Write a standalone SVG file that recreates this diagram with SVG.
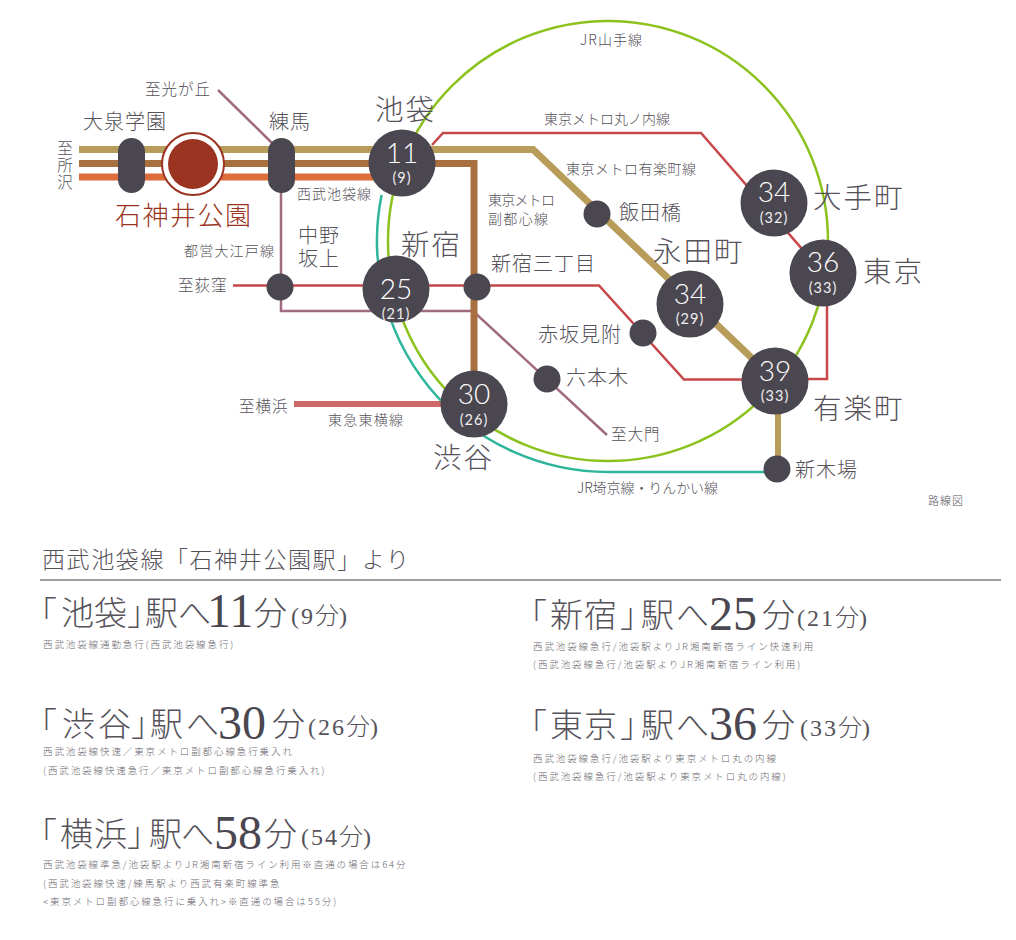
<svg xmlns="http://www.w3.org/2000/svg" width="1016" height="940" viewBox="0 0 1016 940">
<style>
text{font-family:"Noto Sans CJK JP","Noto Sans",sans-serif;font-weight:300;fill:#55525a}
.l{fill:none;stroke-linejoin:miter}
.big{fill:#4b4751}
.sm{fill:#4b4751}
.n{font-family:Lato,"Noto Sans",sans-serif;font-weight:300;fill:#fff;font-size:28px;text-anchor:middle}
.m{font-family:Lato,"Noto Sans",sans-serif;font-weight:400;fill:#eeeeee;font-size:14.5px;text-anchor:middle;letter-spacing:1px}
.s29{font-size:28.5px;letter-spacing:2px}
.s20{font-size:20px;letter-spacing:1px}
.s16{font-size:15.5px;letter-spacing:1px}
.s14{font-size:14px}
.h1{font-size:33px}
.hd{font-family:"Liberation Serif",serif;font-size:48px;font-weight:400;fill:#4b4751}
.hp{font-size:24px}
.hs{font-family:"Liberation Serif",serif;font-size:24px;font-weight:400;letter-spacing:2px}
.f{font-size:9.5px;letter-spacing:1.9px;fill:#6a676e}
</style>
<g id="connectors">
<circle class="l" cx="608" cy="241" r="220" stroke="#8cc21e" stroke-width="2.5"/>
<path class="l" d="M381.6 195A231 231 0 0 0 608 472H776" stroke="#2fb59a" stroke-width="2.5"/>
<path class="l" d="M218 90L272 143M281 165V311H473L607 435" stroke="#a06a80" stroke-width="2.500"/>
<path class="l" d="M79 149.500H533L776 381" stroke="#b89d5a" stroke-width="7"/>
<path class="l" d="M79 163.500H474V404" stroke="#a8703f" stroke-width="7"/>
<path class="l" d="M79 177H385" stroke="#dd6e3c" stroke-width="7"/>
<path class="l" d="M778 381V469" stroke="#b89d5a" stroke-width="6"/>
<path class="l" d="M294 404H445" stroke="#cc6866" stroke-width="6"/>
<path class="l" d="M432 145L443 133H701L823 273" stroke="#c6474a" stroke-width="2.500"/>
<path class="l" d="M827 280V379H775" stroke="#c6474a" stroke-width="2.500"/>
<path class="l" d="M233 285.500H599L684 379.500H775" stroke="#c6474a" stroke-width="2.500"/>
</g>
<g id="node-oizumi"><rect x="118" y="138" width="27" height="55" rx="13.500" class="big"/><text x="83" y="129" class="s20">大泉学園</text></g>
<g id="node-shakujii"><circle cx="193" cy="164" r="31" fill="#fff" stroke="#9a3320" stroke-width="2"/><circle cx="193" cy="164" r="25" fill="#9a3320"/><text x="115" y="225" style="font-size:26px;letter-spacing:1.500px;fill:#9a3320">石神井公園</text></g>
<g id="node-nerima"><rect x="268" y="138" width="27" height="55" rx="13.500" class="big"/><text x="269" y="129" class="s20">練馬</text></g>
<g id="node-ikebukuro"><circle cx="402" cy="163" r="33.500" class="big"/><text x="402" y="163" class="n">11</text><text x="402" y="183" class="m">(9)</text><text x="375" y="120" class="s29">池袋</text></g>
<g id="node-shinjuku"><circle cx="396" cy="289" r="33.500" class="big"/><text x="396" y="299" class="n">25</text><text x="396" y="319" class="m">(21)</text><text x="401" y="255" class="s29">新宿</text></g>
<g id="node-shibuya"><circle cx="474" cy="404" r="33.500" class="big"/><text x="474" y="404" class="n">30</text><text x="474" y="425" class="m">(26)</text><text x="433" y="468" class="s29">渋谷</text></g>
<g id="node-nagatacho"><circle cx="690" cy="304" r="33.500" class="big"/><text x="690" y="304" class="n">34</text><text x="690" y="324" class="m">(29)</text><text x="653" y="262" class="s29">永田町</text></g>
<g id="node-otemachi"><circle cx="774" cy="203" r="33.500" class="big"/><text x="774" y="202" class="n">34</text><text x="774" y="223" class="m">(32)</text><text x="813" y="208" class="s29">大手町</text></g>
<g id="node-tokyo"><circle cx="823" cy="273" r="33.500" class="big"/><text x="823" y="272" class="n">36</text><text x="823" y="293" class="m">(33)</text><text x="863" y="282" class="s29">東京</text></g>
<g id="node-yurakucho"><circle cx="775" cy="381" r="33.500" class="big"/><text x="775" y="381" class="n">39</text><text x="775" y="401" class="m">(33)</text><text x="813" y="419" class="s29">有楽町</text></g>
<g id="node-iidabashi"><circle cx="597" cy="214" r="13.500" class="sm"/><text x="619" y="220" class="s20">飯田橋</text></g>
<g id="node-akasaka"><circle cx="643" cy="333" r="13.500" class="sm"/><text x="538" y="342" class="s20">赤坂見附</text></g>
<g id="node-roppongi"><circle cx="547" cy="379" r="13.500" class="sm"/><text x="566" y="385" class="s20">六本木</text></g>
<g id="node-sanchome"><circle cx="477" cy="287" r="13.500" class="sm"/><text x="491" y="271" class="s20">新宿三丁目</text></g>
<g id="node-nakano"><circle cx="280" cy="287" r="13.500" class="sm"/><text x="298" y="243" class="s20">中野<tspan x="298" dy="23">坂上</tspan></text></g>
<g id="node-shinkiba"><circle cx="777" cy="469" r="13.500" class="sm"/><text x="795" y="477" class="s20">新木場</text></g>
<g id="labels">
<text class="s16" x="145" y="95">至光が丘</text>
<text x="65" y="140" style="font-size:15.500px;letter-spacing:1.500px;writing-mode:vertical-rl">至所沢</text>
<text class="s14" x="297" y="199" textLength="74">西武池袋線</text>
<text class="s14" x="184" y="256" textLength="90">都営大江戸線</text>
<text class="s16" x="178" y="291">至荻窪</text>
<text class="s14" x="488" y="205" textLength="67">東京メトロ</text><text class="s14" x="488" y="224" textLength="60">副都心線</text>
<text class="s14" x="544" y="124" textLength="126">東京メトロ丸ノ内線</text>
<text class="s14" x="566" y="174" textLength="130">東京メトロ有楽町線</text>
<text class="s14" x="580" y="45" textLength="62">JR山手線</text>
<text class="s16" x="611" y="440">至大門</text>
<text class="s16" x="239" y="412">至横浜</text>
<text class="s14" x="328" y="425" textLength="75">東急東横線</text>
<text class="s14" x="577" y="493" textLength="141">JR埼京線・りんかい線</text>
<text x="928" y="505" style="font-size:11px;letter-spacing:1px">路線図</text>
</g>
<g id="times">
<text x="42" y="568" style="font-size:23px;letter-spacing:1.600px">西武池袋線「石神井公園駅」より</text>
<path d="M40 580H1001" stroke="#3f3c44" stroke-width="1"/>
<text class="h1" y="625" x="24 61 94 127 145 178">「池袋」駅へ</text><text class="hd" x="207" y="627">11</text><text class="h1" x="254" y="625">分</text><text x="291" y="624"><tspan class="hs">(9</tspan><tspan class="hp">分</tspan><tspan class="hs">)</tspan></text>
<text x="43" y="648" class="f">西武池袋線通勤急行(西武池袋線急行)</text>
<text class="h1" y="736" x="24 62 98 131 150 186">「渋谷」駅へ</text><text class="hd" x="218" y="739">30</text><text class="h1" x="272" y="736">分</text><text x="308" y="735"><tspan class="hs">(26</tspan><tspan class="hp">分</tspan><tspan class="hs">)</tspan></text>
<text x="43" y="755" class="f">西武池袋線快速／東京メトロ副都心線急行乗入れ</text>
<text x="43" y="774" class="f">(西武池袋線快速急行／東京メトロ副都心線急行乗入れ)</text>
<text class="h1" y="627" x="514 550 584 620 641 676">「新宿」駅へ</text><text class="hd" x="709" y="630">25</text><text class="h1" x="762" y="627">分</text><text x="797" y="626"><tspan class="hs">(21</tspan><tspan class="hp">分</tspan><tspan class="hs">)</tspan></text>
<text x="533" y="650" class="f">西武池袋線急行/池袋駅よりJR湘南新宿ライン快速利用</text>
<text x="533" y="668" class="f">(西武池袋線急行/池袋駅よりJR湘南新宿ライン利用)</text>
<text class="h1" y="737" x="514 550 584 620 641 676">「東京」駅へ</text><text class="hd" x="709" y="740">36</text><text class="h1" x="762" y="737">分</text><text x="800" y="736"><tspan class="hs">(33</tspan><tspan class="hp">分</tspan><tspan class="hs">)</tspan></text>
<text x="533" y="762" class="f">西武池袋線急行/池袋駅より東京メトロ丸の内線</text>
<text x="533" y="780" class="f">(西武池袋線急行/池袋駅より東京メトロ丸の内線)</text>
<text class="h1" y="846" x="24 60 94 127 149 181">「横浜」駅へ</text><text class="hd" x="214" y="849">58</text><text class="h1" x="264" y="846">分</text><text x="301" y="845"><tspan class="hs">(54</tspan><tspan class="hp">分</tspan><tspan class="hs">)</tspan></text>
<text x="43" y="868" class="f">西武池袋線準急/池袋駅よりJR湘南新宿ライン利用※直通の場合は64分</text>
<text x="43" y="887" class="f">(西武池袋線快速/練馬駅より西武有楽町線準急</text>
<text x="43" y="905" class="f">&lt;東京メトロ副都心線急行に乗入れ&gt;※直通の場合は55分)</text>
</g>
</svg>
